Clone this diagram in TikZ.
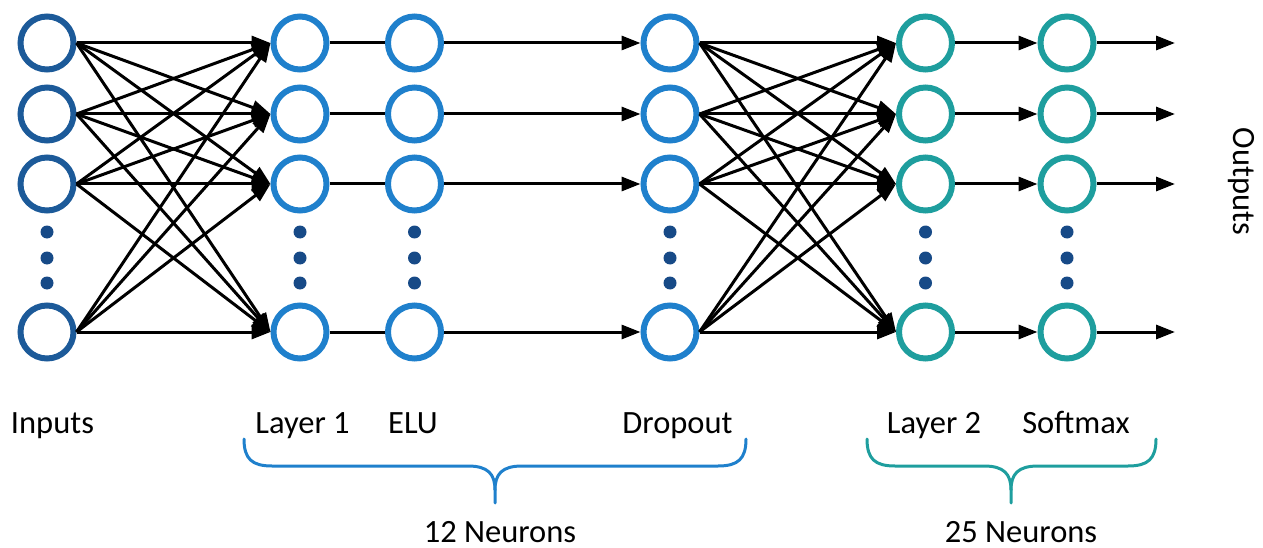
\documentclass[tikz,border=0pt]{standalone}
\usepackage{fontspec}
\setmainfont{Carlito}
\usetikzlibrary{arrows.meta}
\definecolor{incol}{HTML}{1C5A99}
\definecolor{bluecol}{HTML}{1F80CC}
\definecolor{tealcol}{HTML}{1E9E9E}
\definecolor{dotcol}{HTML}{174A87}
\tikzset{
  neuron/.style={circle, minimum size=53pt, inner sep=0pt, line width=6pt, fill=white},
  conn/.style={line width=3pt, black, -{Triangle[length=19pt,width=14pt]}},
  plain/.style={line width=3pt, black},
  lbl/.style={font=\fontsize{32.5}{37}\selectfont, inner sep=0pt, anchor=base},
  bracepath/.style={line width=3pt, line cap=round}
}
\begin{document}
\begin{tikzpicture}[x=1pt,y=-1pt]
\useasboundingbox (0,0) rectangle (1263,548);
% columns
\foreach \c/\x/\col in {in/47/incol, la/300/bluecol, el/414.5/bluecol, dr/670/bluecol, lb/925.5/tealcol, sm/1067/tealcol}{
  \foreach \r/\y in {1/43,2/114,3/184,4/332}{
    \node[neuron, draw=\col] (\c\r) at (\x,\y) {};
  }
  \foreach \y in {232,258,283}{
    \fill[dotcol] (\x,\y) circle (6.5pt);
  }
}
% fans
\foreach \i in {1,2,3,4}{
  \foreach \j in {1,2,3,4}{
    \draw[conn] (in\i.east) -- (la\j.west);
    \draw[conn] (dr\i.east) -- (lb\j.west);
  }
  \draw[plain] (la\i.east) -- (el\i.west);
  \draw[conn] (el\i.east) -- (dr\i.west);
  \draw[conn] (lb\i.east) -- (sm\i.west);
}
\coordinate (o1) at (1175,43);
\coordinate (o2) at (1175,114);
\coordinate (o3) at (1175,184);
\coordinate (o4) at (1175,332);
\foreach \i in {1,2,3,4}{
  \draw[conn] (sm\i.east) -- (o\i);
}
% labels
\node[lbl] (tin) at (52.5,433) {Inputs};
\node[lbl] (tla) at (302.5,433) {Layer 1};
\node[lbl] (tel) at (413,433) {ELU};
\node[lbl] (tdr) at (677.5,433) {Dropout};
\node[lbl] (tlb) at (934,433) {Layer 2};
\node[lbl] (tsm) at (1076,433) {Softmax};
\node[lbl, rotate=-90] (tout) at (1233,181.5) {Outputs};
\node[lbl] (n12) at (500,542) {12 Neurons};
\node[lbl] (n25) at (1021,542) {25 Neurons};
% braces
\draw[bracepath, bluecol] (244,439) .. controls (244,459) and (252,466) .. (272,466) -- (468,466)
  .. controls (488,466) and (495,474) .. (495,490) -- (495,503);
\draw[bracepath, bluecol] (746,439) .. controls (746,459) and (738,466) .. (718,466) -- (522,466)
  .. controls (502,466) and (495,474) .. (495,490);
\draw[bracepath, tealcol] (867,439) .. controls (867,459) and (875,466) .. (895,466) -- (984,466)
  .. controls (1004,466) and (1011,474) .. (1011,490) -- (1011,503);
\draw[bracepath, tealcol] (1156,439) .. controls (1156,459) and (1148,466) .. (1128,466) -- (1038,466)
  .. controls (1018,466) and (1011,474) .. (1011,490);
\end{tikzpicture}
\end{document}
